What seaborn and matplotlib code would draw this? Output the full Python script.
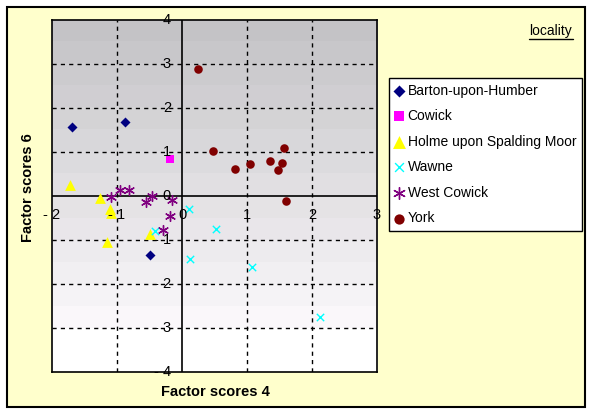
import numpy as np
import pandas as pd
import seaborn as sns
import matplotlib.pyplot as plt
from matplotlib.patches import Rectangle
from matplotlib.lines import Line2D

# data
barton_x = [-1.70, -0.88, -0.50]
barton_y = [1.57, 1.68, -1.33]
cowick_x = [-0.19]
cowick_y = [0.85]
holme_x = [-1.72, -1.26, -1.11, -1.10, -0.49, -1.15]
holme_y = [0.24, -0.04, -0.30, -0.38, -0.86, -1.05]
wawne_x = [0.10, -0.42, 0.53, 0.12, 1.08, 2.13]
wawne_y = [-0.30, -0.80, -0.74, -1.43, -1.61, -2.74]
west_x = [-1.09, -0.95, -0.82, -0.56, -0.46, -0.15, -0.19, -0.30]
west_y = [-0.02, 0.13, 0.13, -0.14, 0.00, -0.08, -0.45, -0.78]
york_x = [0.25, 0.47, 0.81, 1.04, 1.36, 1.57, 1.54, 1.47, 1.60]
york_y = [2.88, 1.03, 0.61, 0.72, 0.79, 1.08, 0.76, 0.60, -0.11]

groups = ["Barton-upon-Humber", "Cowick", "Holme upon Spalding Moor",
          "Wawne", "West Cowick", "York"]
xticks = [-2, -1, 0, 1, 2, 3]
yticks = [-4, -3, -2, -1, 0, 1, 2, 3, 4]
xtick_labels = ["- 2", "- 1", "0", "1", "2", "3"]
ytick_labels = ["- 4", "- 3", "- 2", "- 1", "0", "1", "2", "3", "4"]

df = pd.concat([
    pd.DataFrame({"x": barton_x, "y": barton_y, "loc": groups[0]}),
    pd.DataFrame({"x": cowick_x, "y": cowick_y, "loc": groups[1]}),
    pd.DataFrame({"x": holme_x, "y": holme_y, "loc": groups[2]}),
    pd.DataFrame({"x": wawne_x, "y": wawne_y, "loc": groups[3]}),
    pd.DataFrame({"x": west_x, "y": west_y, "loc": groups[4]}),
    pd.DataFrame({"x": york_x, "y": york_y, "loc": groups[5]}),
])

styles = {
    groups[0]: dict(color="#000080", marker="D", s=26, linewidth=0),
    groups[1]: dict(color="#FF00FF", marker="s", s=36, linewidth=0),
    groups[2]: dict(color="#FFFF00", marker="^", s=60, linewidth=0),
    groups[3]: dict(color="#00FFFF", marker="x", s=28, linewidth=1),
    groups[4]: dict(color="#800080", marker=(6, 2, 0), s=50, linewidth=1),
    groups[5]: dict(color="#800000", marker="o", s=38, linewidth=0),
}

sns.set_style("white")
plt.rcParams["font.family"] = ["Liberation Sans", "DejaVu Sans"]
plt.rcParams["text.color"] = "black"

W, H = 594, 415
fig = plt.figure(figsize=(W / 100, H / 100), dpi=100)
fig.patch.set_facecolor("white")

# yellow chart area with border
fig.patches.append(Rectangle((7 / W, 1 - 407 / H), 578 / W, 400 / H,
                             transform=fig.transFigure, facecolor="#FFFFCC",
                             edgecolor="black", linewidth=1.5, zorder=-10))

ax = fig.add_axes([52 / W, 1 - 372 / H, 325 / W, 352 / H])

# banded grey-to-white gradient background
n = 16
t = np.linspace(0, 1, n - 2)
top = np.array([196, 195, 198]) / 255
bot = np.array([250, 247, 250]) / 255
bands = np.ones((n, 3))
bands[:n - 2] = top[None, :] * (1 - t[:, None]) + bot[None, :] * t[:, None]
ax.imshow(bands[:, None, :], extent=(-2, 3, -4, 4), aspect="auto",
          interpolation="nearest", zorder=0)

# dashed grid + zero axes
for xv in xticks[1:-1]:
    if xv != 0:
        ax.axvline(xv, color="black", lw=1, ls=(0, (3, 3)), zorder=1)
for yv in yticks[1:-1]:
    if yv != 0:
        ax.axhline(yv, color="black", lw=1, ls=(0, (3, 3)), zorder=1)
ax.axvline(0, color="black", lw=1.2, zorder=2)
ax.axhline(0, color="black", lw=1.2, zorder=2)

for name in groups:
    sub = df[df["loc"] == name]
    sns.scatterplot(data=sub, x="x", y="y", ax=ax, label=name, zorder=3,
                    **styles[name])

ax.set_xlim(-2, 3)
ax.set_ylim(-4, 4)
ax.set_xticks([])
ax.set_yticks([])
ax.set_xlabel("")
ax.set_ylabel("")
for sp in ax.spines.values():
    sp.set_color("black")
    sp.set_linewidth(1.2)

# tick labels next to the zero axes
for xv, lab in zip(xticks, xtick_labels):
    ax.annotate(lab, (xv, 0), xytext=(0, -14), textcoords="offset points",
                ha="center", va="center", fontsize=10.5, zorder=4)
for yv, lab in zip(yticks, ytick_labels):
    ax.annotate(lab, (0, yv), xytext=(-8, 0), textcoords="offset points",
                ha="right", va="center", fontsize=10.5, zorder=4)

fig.text(215 / W, 1 - 392 / H, "Factor scores 4", ha="center", va="center",
         fontsize=10.5, fontweight="bold")
fig.text(28 / W, 1 - 188 / H, "Factor scores 6", ha="center", va="center",
         rotation=90, fontsize=10.5, fontweight="bold")

# legend title
fig.text(551 / W, 1 - 31 / H, "locality", ha="center", va="center", fontsize=10)
fig.lines.append(Line2D([529 / W, 573 / W], [1 - 39 / H, 1 - 39 / H],
                        transform=fig.transFigure, color="black", lw=1))

leg = ax.legend(loc="upper left", bbox_to_anchor=(389 / W, 1 - 78 / H),
                bbox_transform=fig.transFigure, borderaxespad=0, fontsize=10,
                frameon=True, fancybox=False, edgecolor="black",
                framealpha=1, handlelength=0.6, handletextpad=0.35,
                labelspacing=0.83, borderpad=0.4, markerscale=1.2)
leg.get_frame().set_linewidth(1)
for txt in leg.get_texts():
    txt.set_color("black")

fig.savefig("out.png", dpi=100)
